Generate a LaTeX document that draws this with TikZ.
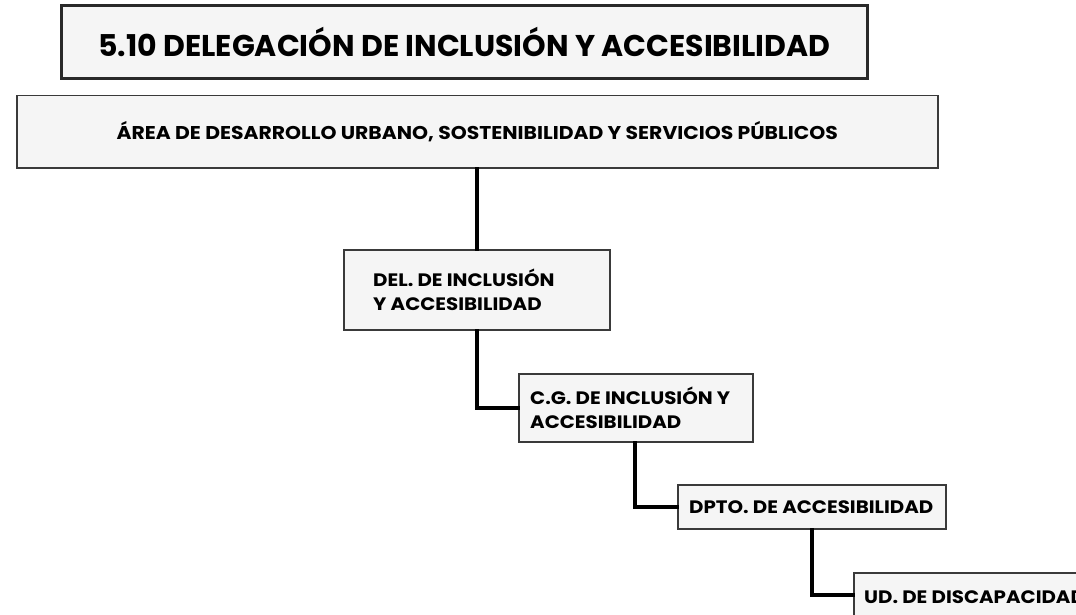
\documentclass[tikz,border=0pt]{standalone}
\usepackage{fontspec}
\setmainfont{Poppins}
\newfontfamily\orgfont{Poppins Bold}[FakeStretch=1.1]
\newfontfamily\titlefont{Poppins Bold}[FakeStretch=1.0]
\definecolor{boxfill}{HTML}{F5F5F5}
\definecolor{boxline}{HTML}{3A3A3A}
\tikzset{
  orgbox/.style={draw=boxline, fill=boxfill, line width=1.5pt, inner sep=0pt, anchor=north west},
  orgtext/.style={font=\orgfont\fontsize{18}{24}\selectfont, align=left, inner sep=0pt, text=black},
  link/.style={line width=3.8pt, black, line cap=rect}
}
\begin{document}
\begin{tikzpicture}[x=1pt,y=-1pt]
\useasboundingbox (0,0) rectangle (1076,615);
% title
\node[orgbox, line width=2.8pt, draw=boxline!70!black, minimum width=806pt, minimum height=73pt] (title) at (60,4) {};
\node[font=\titlefont\fontsize{30}{32}\selectfont, inner sep=0pt] (titletext) at (title.center) {5.10 DELEGACIÓN DE INCLUSIÓN Y ACCESIBILIDAD};
% area
\node[orgbox, minimum width=921pt, minimum height=72pt] (area) at (16,95) {};
\node[orgtext, font=\orgfont\fontsize{18.5}{20}\selectfont] (areatext) at (area.center) {ÁREA DE DESARROLLO URBANO, SOSTENIBILIDAD Y SERVICIOS PÚBLICOS};
% del
\node[orgbox, minimum width=266pt, minimum height=80pt] (del) at (343,249) {};
\node[orgtext, anchor=west] (deltext) at ([xshift=30pt]del.west) {DEL. DE INCLUSIÓN\\Y ACCESIBILIDAD};
% cg
\node[orgbox, minimum width=234pt, minimum height=68pt] (cg) at (518,373) {};
\node[orgtext, anchor=west] (cgtext) at ([xshift=12pt]cg.west) {C.G. DE INCLUSIÓN Y\\ACCESIBILIDAD};
% dpto
\node[orgbox, minimum width=268pt, minimum height=44pt] (dpto) at (677,484) {};
\node[orgtext, anchor=west] (dptotext) at ([xshift=12pt]dpto.west) {DPTO. DE ACCESIBILIDAD};
% ud
\node[orgbox, minimum width=240pt, minimum height=60pt] (ud) at (853,572) {};
\node[orgtext, anchor=west] (udtext) at ([xshift=11pt,yshift=6pt]ud.west) {UD. DE DISCAPACIDAD};
% connectors
\draw[link] (area.south -| del.north) -- (del.north);
\draw[link] (del.south) |- (cg.west);
\path (cg.south west) ++(117,0) coordinate (cgb);
\draw[link] (cgb) |- (dpto.west);
\path (dpto.south west) ++(135,0) coordinate (dptob);
\draw[link] (dptob) |- ([yshift=8pt]ud.west);
\end{tikzpicture}
\end{document}
